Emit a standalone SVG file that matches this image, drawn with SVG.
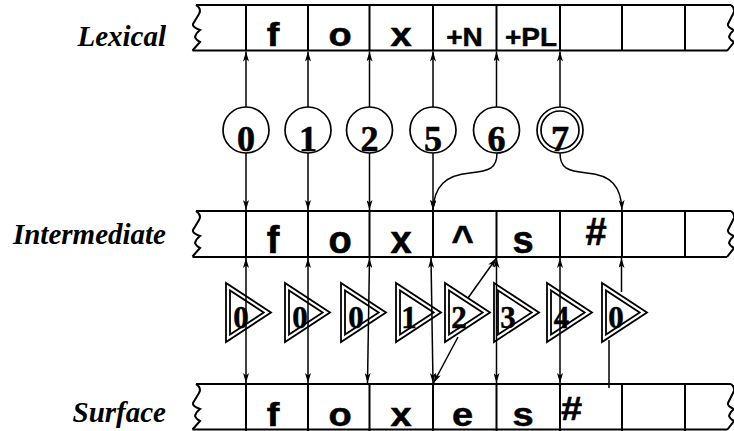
<svg xmlns="http://www.w3.org/2000/svg" xmlns:xlink="http://www.w3.org/1999/xlink" width="734" height="431" viewBox="0 0 734 431">
  <style>
    .tape { fill: none; stroke: #000; stroke-width: 2; }
    .conn { fill: none; stroke: #000; stroke-width: 1.5; }
    .node { fill: none; stroke: #000; stroke-width: 1.7; }
    .tri { fill: none; stroke: #000; stroke-width: 1.8; stroke-linejoin: miter; }
    .lbl { font-family: "Liberation Serif", "Times New Roman", serif; font-style: italic; font-weight: bold; font-size: 29px; text-anchor: end; fill: #000; }
    .sym { font-family: "Liberation Sans", Arial, sans-serif; font-weight: bold; font-size: 38px; text-anchor: middle; fill: #000; stroke: #000; stroke-width: 0.6; }
    .tag { font-family: "Liberation Sans", Arial, sans-serif; font-weight: bold; font-size: 28px; text-anchor: middle; fill: #000; stroke: #000; stroke-width: 0.5; }
    .cnum { font-family: "Liberation Serif", "Times New Roman", serif; font-weight: bold; font-size: 36px; text-anchor: middle; fill: #000; stroke: #000; stroke-width: 0.6; }
    .tnum { font-family: "Liberation Serif", "Times New Roman", serif; font-weight: bold; font-size: 31px; text-anchor: middle; fill: #000; stroke: #000; stroke-width: 0.5; }
  </style>
  <defs>
    <marker id="ah" viewBox="0 0 10 6" refX="10" refY="3" markerWidth="10" markerHeight="6" markerUnits="userSpaceOnUse" orient="auto-start-reverse">
      <path d="M0,0 L10,3 L0,6 L2.5,3 Z" fill="#000"/>
    </marker>
    <!-- torn edge at the left end of a tape -->
    <path id="tearL" d="M0,0 Q6,4 3,9 L-3,19 Q-4,22 4,25 Q0,28 -1,32 Q0,35 4,37 L-3.5,45.5"/>
    <!-- torn edge at the right end of a tape -->
    <path id="tearR" d="M0,0 Q5,4 2,9 L-3,19 Q-4,22 3,25 Q-1,28 -2,32 Q-1,35 3,37 L-4,46"/>
    <!-- double-outlined state triangle -->
    <g id="tri">
      <polygon points="0,0 0,59 45,29.5"/>
      <polygon points="4,7.4 4,51.6 37.7,29.5"/>
    </g>
  </defs>

  <rect width="734" height="431" fill="#fff"/>

  <!-- tape labels -->
  <text class="lbl" x="166" y="45.5">Lexical</text>
  <text class="lbl" x="166" y="243.5">Intermediate</text>
  <text class="lbl" x="166" y="421.5">Surface</text>

  <!-- lexical tape -->
  <g id="tape-lexical" class="tape">
    <line x1="196" y1="5" x2="731" y2="5"/>
    <line x1="192.5" y1="50.5" x2="727" y2="50.5"/>
    <use xlink:href="#tearL" transform="translate(196,5)"/>
    <use xlink:href="#tearR" transform="translate(731,5)"/>
    <path d="M246,5V50.5 M308,5V50.5 M369.5,5V50.5 M433,5V50.5 M496.5,5V50.5 M560,5V50.5 M622,5V50.5 M685,5V50.5"/>
  </g>
  <g id="lexical-symbols">
    <text class="sym" transform="translate(273,45.5) scale(1,0.86)">f</text>
    <text class="sym" transform="translate(340,45.5) scale(1,0.86)">o</text>
    <text class="sym" transform="translate(401,45.5) scale(1,0.86)">x</text>
    <text class="tag" transform="translate(464.5,45.5) scale(1,0.9)">+N</text>
    <text class="tag" transform="translate(531,45.5) scale(1,0.9)">+PL</text>
  </g>

  <!-- intermediate tape -->
  <g id="tape-intermediate" class="tape">
    <line x1="196" y1="211" x2="731" y2="211"/>
    <line x1="192.5" y1="257" x2="727" y2="257"/>
    <use xlink:href="#tearL" transform="translate(196,211)"/>
    <use xlink:href="#tearR" transform="translate(731,211)"/>
    <path d="M246,211V257 M308,211V257 M369.5,211V257 M433,211V257 M496.5,211V257 M560,211V257 M622,211V257 M685,211V257"/>
  </g>
  <g id="intermediate-symbols">
    <text class="sym" x="273" y="253">f</text>
    <text class="sym" x="340" y="253">o</text>
    <text class="sym" x="401" y="253">x</text>
    <text class="sym" x="462.5" y="253">^</text>
    <text class="sym" x="523" y="253">s</text>
    <text class="sym" x="596" y="245">#</text>
  </g>

  <!-- surface tape -->
  <g id="tape-surface" class="tape">
    <line x1="196" y1="384" x2="731" y2="384"/>
    <line x1="192.5" y1="429.5" x2="727" y2="429.5"/>
    <use xlink:href="#tearL" transform="translate(196,384)"/>
    <use xlink:href="#tearR" transform="translate(731,384)"/>
    <path d="M246,384V431 M308,384V431 M369.5,384V431 M433,384V431 M496.5,384V431 M560,384V431 M622,384V431 M685,384V431"/>
  </g>
  <g id="surface-symbols">
    <text class="sym" transform="translate(273,425.5) scale(1,0.88)">f</text>
    <text class="sym" transform="translate(340,425.5) scale(1,0.88)">o</text>
    <text class="sym" transform="translate(401,425.5) scale(1,0.88)">x</text>
    <text class="sym" transform="translate(462.5,425.5) scale(1,0.88)">e</text>
    <text class="sym" transform="translate(523,425.5) scale(1,0.88)">s</text>
    <text class="sym" transform="translate(571.5,420) scale(1,0.88)">#</text>
  </g>

  <!-- connectors -->
  <g id="connectors" class="conn">
    <!-- lexical rule circles up to the lexical tape -->
    <line x1="246" y1="107" x2="246" y2="51.5" marker-end="url(#ah)"/>
    <line x1="308" y1="107" x2="308" y2="51.5" marker-end="url(#ah)"/>
    <line x1="369.5" y1="107" x2="369.5" y2="51.5" marker-end="url(#ah)"/>
    <line x1="433" y1="107" x2="433" y2="51.5" marker-end="url(#ah)"/>
    <line x1="496.5" y1="107" x2="496.5" y2="51.5" marker-end="url(#ah)"/>
    <line x1="560" y1="107" x2="560" y2="51.5" marker-end="url(#ah)"/>
    <!-- lexical rule circles down to the intermediate tape -->
    <line x1="246" y1="153" x2="246" y2="210" marker-end="url(#ah)"/>
    <line x1="308" y1="153" x2="308" y2="210" marker-end="url(#ah)"/>
    <line x1="369.5" y1="153" x2="369.5" y2="210" marker-end="url(#ah)"/>
    <line x1="433" y1="153" x2="433" y2="210" marker-end="url(#ah)"/>
    <path d="M497,153 C497,168 490,171 470,173 C446,175 434,186 433,210" marker-end="url(#ah)"/>
    <path d="M560,153 C560,168 567,171 587,173 C611,175 621,186 622,210" marker-end="url(#ah)"/>
    <!-- spelling rule triangles between intermediate and surface -->
    <line x1="246" y1="258" x2="246" y2="383" marker-start="url(#ah)" marker-end="url(#ah)"/>
    <line x1="308" y1="258" x2="308" y2="383" marker-start="url(#ah)" marker-end="url(#ah)"/>
    <line x1="369.5" y1="258" x2="367.5" y2="383" marker-start="url(#ah)" marker-end="url(#ah)"/>
    <line x1="431" y1="258" x2="433" y2="383" marker-start="url(#ah)" marker-end="url(#ah)"/>
    <line x1="468" y1="298" x2="496.5" y2="258" marker-end="url(#ah)"/>
    <line x1="458" y1="337" x2="433.5" y2="383" marker-end="url(#ah)"/>
    <line x1="496.5" y1="258" x2="496.5" y2="383" marker-start="url(#ah)" marker-end="url(#ah)"/>
    <line x1="560" y1="258" x2="560" y2="383" marker-start="url(#ah)" marker-end="url(#ah)"/>
    <line x1="621.5" y1="292" x2="621.5" y2="258" marker-end="url(#ah)"/>
    <line x1="609" y1="340" x2="609" y2="388"/>
  </g>

  <!-- lexical rule states -->
  <g id="state-0"><circle class="node" cx="246" cy="130" r="23"/><text class="cnum" x="246" y="151">0</text></g>
  <g id="state-1"><circle class="node" cx="308" cy="130" r="23"/><text class="cnum" x="308" y="151">1</text></g>
  <g id="state-2"><circle class="node" cx="369.5" cy="130" r="23"/><text class="cnum" x="369.5" y="151">2</text></g>
  <g id="state-5"><circle class="node" cx="433" cy="130" r="23"/><text class="cnum" x="433" y="151">5</text></g>
  <g id="state-6"><circle class="node" cx="496.5" cy="130" r="23"/><text class="cnum" x="496.5" y="151">6</text></g>
  <g id="state-7"><circle class="node" cx="560" cy="130" r="23"/><circle class="node" cx="560" cy="130" r="19"/><text class="cnum" x="560" y="151">7</text></g>

  <!-- spelling rule states -->
  <g id="spell-a" class="tri"><use xlink:href="#tri" transform="translate(226,283)"/><text class="tnum" x="241" y="328">0</text></g>
  <g id="spell-b" class="tri"><use xlink:href="#tri" transform="translate(285,283)"/><text class="tnum" x="300" y="328">0</text></g>
  <g id="spell-c" class="tri"><use xlink:href="#tri" transform="translate(341,283)"/><text class="tnum" x="356" y="328">0</text></g>
  <g id="spell-d" class="tri"><use xlink:href="#tri" transform="translate(396,283)"/><text class="tnum" x="409" y="328">1</text></g>
  <g id="spell-e" class="tri"><use xlink:href="#tri" transform="translate(445,283)"/><text class="tnum" x="459" y="328">2</text></g>
  <g id="spell-f" class="tri"><use xlink:href="#tri" transform="translate(494,283)"/><text class="tnum" x="508" y="328">3</text></g>
  <g id="spell-g" class="tri"><use xlink:href="#tri" transform="translate(547,283)"/><text class="tnum" x="561.5" y="328">4</text></g>
  <g id="spell-h" class="tri"><use xlink:href="#tri" transform="translate(602,283)"/><text class="tnum" x="616" y="328">0</text></g>
</svg>
